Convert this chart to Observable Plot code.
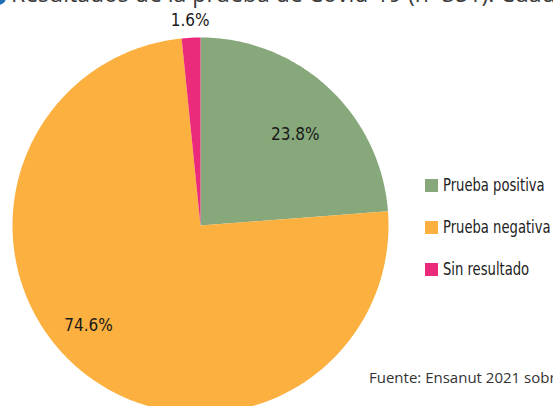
<!DOCTYPE html>
<html>
<head>
<meta charset="utf-8">
<script src="https://cdn.jsdelivr.net/npm/d3@7"></script>
<script src="https://cdn.jsdelivr.net/npm/@observablehq/plot@0.6"></script>
<style>
  html, body { margin: 0; padding: 0; background: #fff; }
  #wrap { position: relative; width: 553px; height: 406px; overflow: hidden; background: #fff; }
  #title { position: absolute; left: 0; top: -22px; white-space: nowrap; font-family: "Open Sans", sans-serif; font-size: 23px; color: #3a3a3a; line-height: 30px; }
  #title .dot { display: inline-block; width: 15px; height: 15px; border-radius: 50%; background: #1f6fb5; margin-left: -9px; margin-right: 5px; vertical-align: -3px; }
  #legend { position: absolute; left: 425px; top: 164px; font-family: "DejaVu Sans Condensed", "DejaVu Sans", sans-serif; font-stretch: condensed; font-size: 17px; color: #222; }
  #legend .item { display: flex; align-items: center; height: 42px; white-space: nowrap; }
  #legend .sw { width: 13px; height: 13px; margin-right: 5px; flex: none; }
  #legend .tx { display: inline-block; transform: scaleX(0.86); transform-origin: left center; }
  #foot { position: absolute; left: 369px; top: 367px; white-space: nowrap; font-family: "Open Sans", sans-serif; font-size: 15px; color: #333; }
  #chart { position: absolute; left: 0; top: 0; }
  #chart text { font-stretch: condensed; }
</style>
</head>
<body>
<div id="wrap">
  <div id="chart"></div>
  <div id="title"><span class="dot"></span>Resultados de la prueba de Covid-19 (n=351). Cuadro</div>
  <div id="legend"></div>
  <div id="foot">Fuente: Ensanut 2021 sobre Covid-19</div>
</div>
<script>
const categories = ["Prueba positiva", "Prueba negativa", "Sin resultado"];
const values = [23.8, 74.6, 1.6];
const labels = ["23.8%", "74.6%", "1.6%"];
const colors = ["#87a87b", "#fbb040", "#ec2a7b"];

const W = 553, H = 406, cx = 200, cy = 225, R = 188;
const total = d3.sum(values);
// angles (radians) from 12 o'clock, clockwise
let acc = 0;
const slices = values.map((v, i) => {
  const a0 = acc / total * 2 * Math.PI;
  acc += v;
  const a1 = acc / total * 2 * Math.PI;
  return {cat: categories[i], a0, a1, i};
});
const pts = [];
for (const s of slices) {
  const n = Math.max(4, Math.ceil((s.a1 - s.a0) / (Math.PI / 180)));
  pts.push({cat: s.cat, x: 0, y: 0});
  for (let k = 0; k <= n; k++) {
    const a = s.a0 + (s.a1 - s.a0) * k / n;
    pts.push({cat: s.cat, x: Math.sin(a), y: Math.cos(a)});
  }
  pts.push({cat: s.cat, x: 0, y: 0});
}
const labelR = [0.70, 0.80, 1.09];
const labelShift = [3.2 * Math.PI / 180, 8.2 * Math.PI / 180, 0];
const labelData = slices.map((s, i) => {
  const a = (s.a0 + s.a1) / 2 + labelShift[i];
  return {t: labels[i], x: Math.sin(a) * labelR[i], y: Math.cos(a) * labelR[i]};
});

const plot = Plot.plot({
  width: W, height: H,
  margin: 0,
  x: {domain: [-cx / R, (W - cx) / R], range: [0, W], axis: null},
  y: {domain: [cy / R, -(H - cy) / R], range: [0, H], axis: null},
  color: {domain: categories, range: colors},
  style: {background: "transparent"},
  marks: [
    Plot.line(pts, {x: "x", y: "y", z: "cat", fill: "cat", stroke: "none", curve: "linear"}),
    Plot.text(labelData, {x: "x", y: "y", text: "t", fontSize: 17, fill: "#1a1a1a",
      fontFamily: "DejaVu Sans Condensed, DejaVu Sans, sans-serif"})
  ]
});
document.getElementById("chart").appendChild(plot);

const leg = document.getElementById("legend");
categories.forEach((c, i) => {
  const it = document.createElement("div");
  it.className = "item";
  const sw = document.createElement("span");
  sw.className = "sw";
  sw.style.background = colors[i];
  it.appendChild(sw);
  const tx = document.createElement("span");
  tx.className = "tx";
  tx.textContent = c;
  it.appendChild(tx);
  leg.appendChild(it);
});
</script>
</body>
</html>
